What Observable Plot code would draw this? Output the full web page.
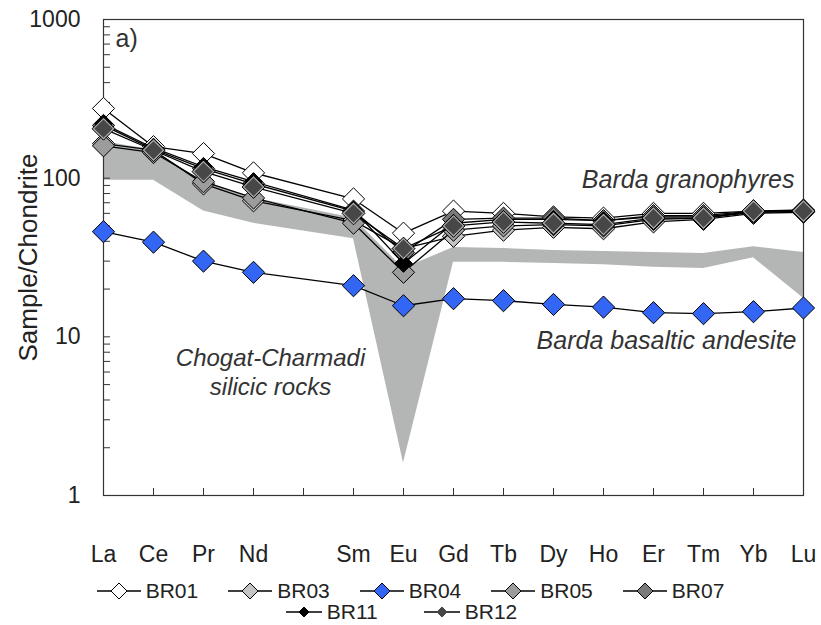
<!DOCTYPE html>
<html>
<head>
<meta charset="utf-8">
<script src="https://cdn.jsdelivr.net/npm/d3@7"></script>
<script src="https://cdn.jsdelivr.net/npm/@observablehq/plot@0.6"></script>
<style>
  html, body { margin: 0; padding: 0; background: #fff; }
  #wrap { position: relative; width: 821px; height: 625px; font-family: "Liberation Sans", Arial, sans-serif; color: #222; overflow: hidden; }
  #chart { position: absolute; left: 0; top: 0; }
  #legend { position: absolute; left: 0; top: 580px; width: 821px; }
  .row { display: flex; justify-content: center; align-items: center; height: 21px; gap: 30px; }
  .row.second { gap: 46px; padding-right: 18px; }
  .item { display: flex; align-items: center; gap: 5px; font-size: 21px; line-height: 21px; }
</style>
</head>
<body>
<div id="wrap"><div id="chart"></div><div id="legend"></div></div>
<script>
// Category slots on the x axis (Pm is an empty slot)
const slots = ["La","Ce","Pr","Nd","Pm","Sm","Eu","Gd","Tb","Dy","Ho","Er","Tm","Yb","Lu"];
// Elements with data
const ree = ["La","Ce","Pr","Nd","Sm","Eu","Gd","Tb","Dy","Ho","Er","Tm","Yb","Lu"];

// Chondrite-normalised values
const BR01 = [275, 158, 143, 108, 74, 45, 62, 60, 57, 56, 60, 60, 62, 62];
const BR03 = [165, 150, 92, 72, 54, 36, 43, 47, 49, 48, 53, 55, 60, 61];
const BR04 = [46, 39.5, 30, 25.5, 21, 15.7, 17.4, 16.9, 16.0, 15.4, 14.2, 14.0, 14.4, 15.2];
const BR05 = [160, 145, 95, 75, 52, 25.5, 47, 50, 51, 50, 55, 56, 61, 62];
const BR07 = [215, 152, 115, 92, 62, 34, 55, 56, 56, 54, 58, 58, 62, 63];
const BR11 = [220, 155, 118, 95, 63, 29, 52, 55, 55, 54, 57, 57, 61, 62];
const BR12 = [205, 150, 110, 88, 60, 36, 50, 53, 52, 51, 56, 56, 62, 62];

// Chogat-Charmadi silicic rocks field
const fieldHigh = [170, 150, 95, 75, 56, 27, 36.5, 36, 35, 34.5, 34, 33.5, 37, 34];
const fieldLow  = [97, 97, 62, 52, 41.5, 1.6, 29.5, 29.5, 29, 28.5, 27.5, 27, 31.5, 17.5];

const yMajor = [1, 10, 100, 1000];
const yMinor = [2,3,4,5,6,7,8,9,20,30,40,50,60,70,80,90,200,300,400,500,600,700,800,900];

const series = [
  {name: "BR01", values: BR01, fill: "#ffffff", r: 10, lr: 8, lw: 44},
  {name: "BR03", values: BR03, fill: "#c4c4c4", r: 10, lr: 8, lw: 44},
  {name: "BR04", values: BR04, fill: "#3366f5", r: 10, lr: 8, lw: 44},
  {name: "BR05", values: BR05, fill: "#9c9c9c", r: 10, lr: 8, lw: 44},
  {name: "BR07", values: BR07, fill: "#7a7a7a", r: 10, lr: 8, lw: 44},
  {name: "BR11", values: BR11, fill: "#000000", r: 8, lr: 5, lw: 36},
  {name: "BR12", values: BR12, fill: "#474747", r: 10.3, lr: 5, lw: 36, ring: true}
];

const field = ree.map((el, i) => ({el, lo: fieldLow[i], hi: fieldHigh[i]}));

const annotations = [
  {el: "Lu", v: 100, text: "Barda granophyres", anchor: "end", dx: -9, size: 25},
  {el: "Lu", v: 9.6, text: "Barda basaltic andesite", anchor: "end", dx: -7, size: 25},
  {el: "Nd", v: 6.1, text: "Chogat-Charmadi\nsilicic rocks", anchor: "middle", dx: 17, size: 24}
];

const marks = [
  Plot.areaY(field, {x: "el", y1: "lo", y2: "hi", fill: "#b4b5b5"}),
  Plot.frame({stroke: "#333", strokeWidth: 1.2}),
  Plot.axisX({tickSize: -7, tickFormat: () => "", stroke: "#333", label: null}),
  Plot.axisX({tickSize: 0, tickPadding: 50, tickFormat: d => d === "Pm" ? "" : d, fontSize: 23, fill: "#222", label: null}),
  Plot.axisY({ticks: yMajor, tickSize: -7, tickFormat: () => "", stroke: "#333", label: null}),
  Plot.axisY({ticks: yMinor, tickSize: -7, tickFormat: () => "", stroke: "#333", label: null}),
  Plot.axisY({ticks: yMajor, tickSize: 0, tickPadding: 23, tickFormat: d => String(d), fontSize: 23, fill: "#222", label: null}),
  Plot.text(["Sample/Chondrite"], {frameAnchor: "left", dx: -75, rotate: -90, fontSize: 26, fill: "#222", textAnchor: "middle", lineAnchor: "middle"}),
  Plot.text(["a)"], {frameAnchor: "top-left", dx: 12, dy: 10, fontSize: 25, fill: "#333", textAnchor: "start", lineAnchor: "top"})
];

for (const a of annotations) {
  marks.push(Plot.text([a], {x: "el", y: "v", text: "text", textAnchor: a.anchor, dx: a.dx, fontSize: a.size, fontStyle: "italic", fill: "#333", lineHeight: 1.2}));
}

for (const s of series) {
  const data = ree.map((el, i) => ({el, v: s.values[i]}));
  marks.push(Plot.line(data, {x: "el", y: "v", stroke: "#000", strokeWidth: 1.3}));
  marks.push(Plot.dot(data, {x: "el", y: "v", symbol: "diamond2", r: s.r, fill: s.fill, stroke: "#000", strokeWidth: 1}));
  if (s.ring) marks.push(Plot.dot(data, {x: "el", y: "v", symbol: "diamond2", r: s.r - 1.3, fill: "none", stroke: "#b0b0b0", strokeWidth: 1.1}));
}

const chart = Plot.plot({
  width: 821,
  height: 575,
  marginTop: 19,
  marginBottom: 80,
  marginLeft: 103,
  marginRight: 18,
  style: {fontFamily: "'Liberation Sans', Arial, sans-serif", background: "transparent", overflow: "visible"},
  x: {type: "point", domain: slots, padding: 0},
  y: {type: "log", domain: [1, 1000]},
  marks
});
document.getElementById("chart").appendChild(chart);

// Legend
const legend = document.getElementById("legend");
const rows = [series.slice(0, 5), series.slice(5)];
rows.forEach((r, ri) => {
  const row = document.createElement("div");
  row.className = ri === 0 ? "row" : "row second";
  for (const s of r) {
    const item = document.createElement("div");
    item.className = "item";
    const h = s.lr, w = s.lw, c = w / 2;
    item.innerHTML = `<svg width="${w}" height="20" viewBox="0 0 ${w} 20"><line x1="0" x2="${w}" y1="10" y2="10" stroke="#000" stroke-width="1.3"/>` +
      `<path d="M${c},${10 - h}L${c + h},10L${c},${10 + h}L${c - h},10Z" fill="${s.fill}" stroke="${s.ring ? '#444' : '#000'}" stroke-width="1"/></svg><span>${s.name}</span>`;
    row.appendChild(item);
  }
  legend.appendChild(row);
});
</script>
</body>
</html>
